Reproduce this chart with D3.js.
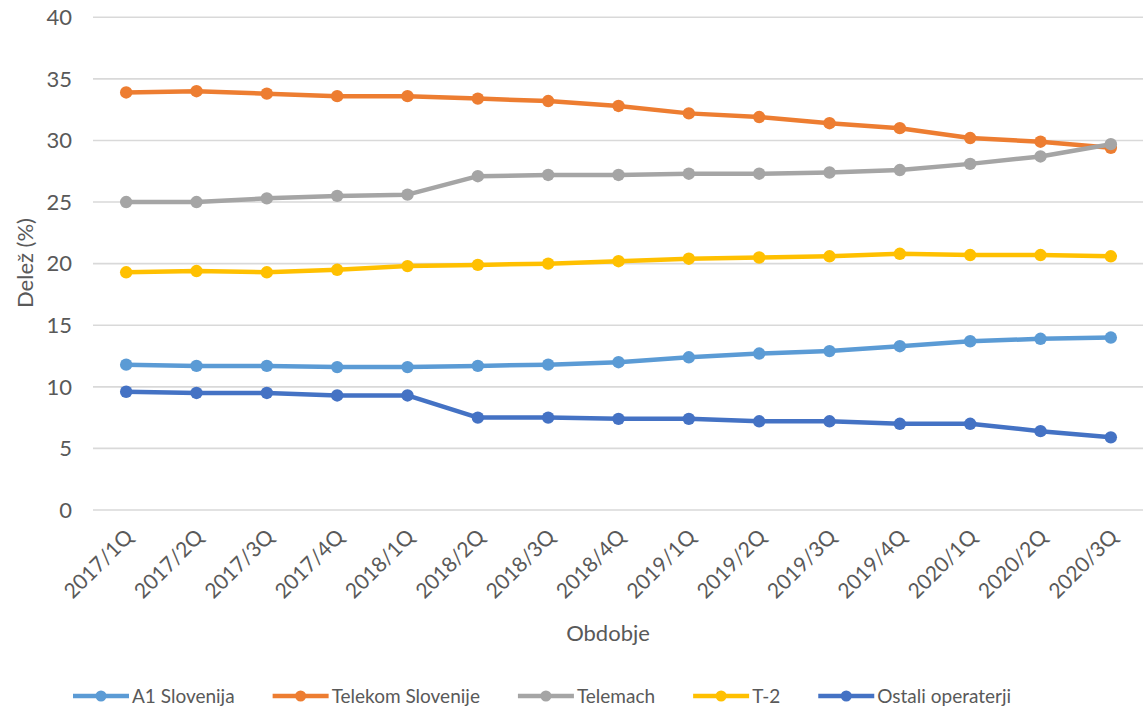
<!DOCTYPE html>
<html>
<head>
<meta charset="utf-8">
<script src="https://cdn.jsdelivr.net/npm/d3@7"></script>
<style>
  html, body { margin: 0; padding: 0; background: #fff; }
  svg { display: block; font-family: Lato, "Liberation Sans", sans-serif; }
</style>
</head>
<body>
<svg id="chart" width="1143" height="715"></svg>
<script>
const categories = ["2017/1Q","2017/2Q","2017/3Q","2017/4Q","2018/1Q","2018/2Q","2018/3Q","2018/4Q",
  "2019/1Q","2019/2Q","2019/3Q","2019/4Q","2020/1Q","2020/2Q","2020/3Q"];
const seriesNames = ["A1 Slovenija","Telekom Slovenije","Telemach","T-2","Ostali operaterji"];
const a1Values      = [11.8, 11.7, 11.7, 11.6, 11.6, 11.7, 11.8, 12.0, 12.4, 12.7, 12.9, 13.3, 13.7, 13.9, 14.0];
const telekomValues = [33.9, 34.0, 33.8, 33.6, 33.6, 33.4, 33.2, 32.8, 32.2, 31.9, 31.4, 31.0, 30.2, 29.9, 29.4];
const telemachValues= [25.0, 25.0, 25.3, 25.5, 25.6, 27.1, 27.2, 27.2, 27.3, 27.3, 27.4, 27.6, 28.1, 28.7, 29.7];
const t2Values      = [19.3, 19.4, 19.3, 19.5, 19.8, 19.9, 20.0, 20.2, 20.4, 20.5, 20.6, 20.8, 20.7, 20.7, 20.6];
const ostaliValues  = [9.6, 9.5, 9.5, 9.3, 9.3, 7.5, 7.5, 7.4, 7.4, 7.2, 7.2, 7.0, 7.0, 6.4, 5.9];
const yTicks = [0, 5, 10, 15, 20, 25, 30, 35, 40];
const colors = ["#5B9BD5", "#ED7D31", "#A5A5A5", "#FFC000", "#4472C4"];
const yTitle = "Delež (%)";
const xTitle = "Obdobje";

const series = [a1Values, telekomValues, telemachValues, t2Values, ostaliValues]
  .map((vals, i) => ({ name: seriesNames[i], color: colors[i], values: vals }));

const svg = d3.select("#chart");
const textColor = "#595959";

const x = d3.scaleBand().domain(categories).range([91, 1146]).padding(0);
const y = d3.scaleLinear().domain([0, 40]).range([510, 17.3]);
const cx = c => x(c) + x.bandwidth() / 2;

// gridlines
svg.append("g").selectAll("line").data(yTicks).join("line")
  .attr("x1", 93).attr("x2", 1143)
  .attr("y1", d => y(d)).attr("y2", d => y(d))
  .attr("stroke", "#D9D9D9").attr("stroke-width", 1.6);

// y axis labels
svg.append("g").selectAll("text").data(yTicks).join("text")
  .attr("x", 72).attr("y", d => y(d)).attr("dy", "0.35em")
  .attr("text-anchor", "end").attr("font-size", 22).attr("fill", textColor)
  .text(d => d);

// x axis labels
svg.append("g").selectAll("text").data(categories).join("text")
  .attr("transform", d => `translate(${cx(d) + 3},${533}) rotate(-45)`)
  .attr("dy", "0.35em")
  .attr("text-anchor", "end").attr("font-size", 21).attr("fill", textColor)
  .text(d => d);

// axis titles
svg.append("text")
  .attr("transform", `translate(25,263) rotate(-90)`)
  .attr("dy", "0.35em").attr("text-anchor", "middle")
  .attr("font-size", 22).attr("fill", textColor).text(yTitle);
svg.append("text")
  .attr("x", 608).attr("y", 633).attr("dy", "0.35em").attr("text-anchor", "middle")
  .attr("font-size", 22).attr("fill", textColor).text(xTitle);

// lines
const line = d3.line().x((d, i) => cx(categories[i])).y(d => y(d));
const sg = svg.append("g").selectAll("g").data(series).join("g");
sg.append("path")
  .attr("d", d => line(d.values))
  .attr("fill", "none").attr("stroke", d => d.color)
  .attr("stroke-width", 4.5).attr("stroke-linejoin", "round").attr("stroke-linecap", "round");
sg.each(function(s) {
  d3.select(this).selectAll("circle").data(s.values).join("circle")
    .attr("cx", (d, i) => cx(categories[i])).attr("cy", d => y(d))
    .attr("r", 6.2).attr("fill", s.color);
});

// legend
const legend = svg.append("g");
let lx = 73;
const ly = 696;
series.forEach(s => {
  const g = legend.append("g");
  g.append("line").attr("x1", lx).attr("x2", lx + 56).attr("y1", ly).attr("y2", ly)
    .attr("stroke", s.color).attr("stroke-width", 4.5);
  g.append("circle").attr("cx", lx + 28).attr("cy", ly).attr("r", 5.5).attr("fill", s.color);
  const t = g.append("text").attr("x", lx + 59).attr("y", ly).attr("dy", "0.35em")
    .attr("font-size", 19).attr("fill", textColor).text(s.name);
  lx += 59 + t.node().getComputedTextLength() + 38;
});
</script>
</body>
</html>
